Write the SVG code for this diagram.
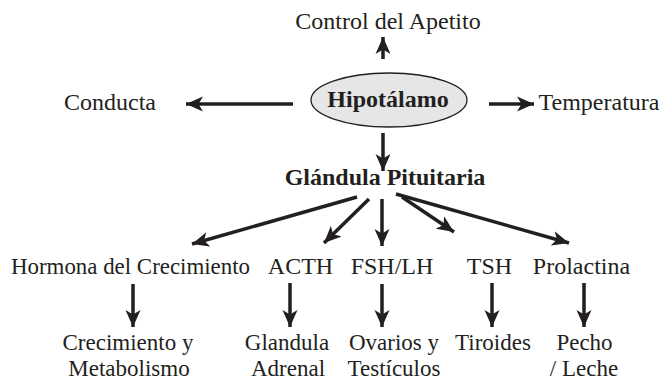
<svg xmlns="http://www.w3.org/2000/svg" width="666" height="381" viewBox="0 0 666 381">
<defs>
<marker id="ah" markerUnits="userSpaceOnUse" markerWidth="18" markerHeight="16" viewBox="0 0 18 16" refX="17" refY="8" orient="auto">
<path d="M0,0.5 L17,8 L0,15.5 L4.5,8 Z" fill="#231f20"/>
</marker>
<style>
.t{font-family:"Liberation Serif","Times New Roman",serif;font-size:24px;fill:#231f20;text-anchor:middle}
.s{font-size:23px}
.b{font-weight:bold}
.c{stroke:#231f20;stroke-width:3.5;fill:none;marker-end:url(#ah)}
</style>
</defs>
<rect width="666" height="381" fill="#ffffff"/>
<g id="connectors">
<line class="c" x1="383" y1="59" x2="383" y2="37"/>
<line class="c" x1="293" y1="104" x2="186" y2="104"/>
<line class="c" x1="489" y1="104" x2="534" y2="104"/>
<line class="c" x1="383" y1="133" x2="383" y2="171"/>
<line class="c" x1="357" y1="197" x2="192" y2="244"/>
<line class="c" x1="369" y1="199" x2="324" y2="243"/>
<line class="c" x1="382" y1="199" x2="382" y2="246"/>
<line class="c" x1="402" y1="197" x2="454" y2="232"/>
<line class="c" x1="396" y1="194" x2="569" y2="243"/>
<line class="c" x1="133" y1="284" x2="133" y2="327"/>
<line class="c" x1="290" y1="283" x2="290" y2="327"/>
<line class="c" x1="382" y1="284" x2="382" y2="327"/>
<line class="c" x1="492" y1="283" x2="492" y2="327"/>
<line class="c" x1="584" y1="283" x2="584" y2="327"/>
</g>
<g id="control"><text class="t" x="388" y="29">Control del Apetito</text></g>
<g id="conducta"><text class="t" x="110" y="110">Conducta</text></g>
<g id="temperatura"><text class="t" x="599" y="110">Temperatura</text></g>
<g id="hipotalamo">
<ellipse cx="389" cy="100" rx="78" ry="27" fill="#e6e6e6" stroke="#231f20" stroke-width="1.3"/>
<text class="t b" x="388" y="107">Hipotálamo</text>
</g>
<g id="pituitaria"><text class="t b" x="385" y="185">Glándula Pituitaria</text></g>
<g id="hormona"><text class="t" x="130.5" y="274" textLength="239" lengthAdjust="spacingAndGlyphs">Hormona del Crecimiento</text></g>
<g id="acth"><text class="t" x="300.5" y="274">ACTH</text></g>
<g id="fshlh"><text class="t" x="392" y="274">FSH/LH</text></g>
<g id="tsh"><text class="t" x="489.5" y="274">TSH</text></g>
<g id="prolactina"><text class="t" x="581.5" y="274">Prolactina</text></g>
<g id="crecimiento"><text class="t s" x="128" y="350">Crecimiento y</text><text class="t s" x="129" y="376">Metabolismo</text></g>
<g id="adrenal"><text class="t s" x="287" y="350">Glandula</text><text class="t s" x="288" y="376">Adrenal</text></g>
<g id="ovarios"><text class="t s" x="394" y="350">Ovarios y</text><text class="t s" x="394" y="376">Testículos</text></g>
<g id="tiroides"><text class="t s" x="493" y="350">Tiroides</text></g>
<g id="pecho"><text class="t s" x="584.5" y="350">Pecho</text><text class="t s" x="584" y="376">/ Leche</text></g>
</svg>
